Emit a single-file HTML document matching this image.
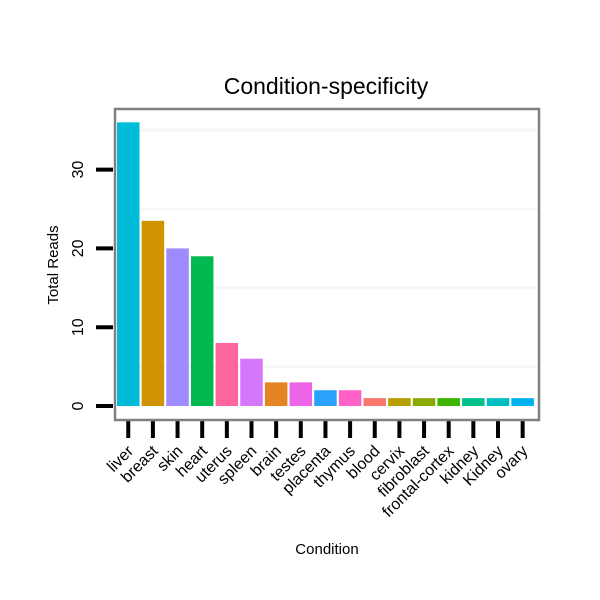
<!DOCTYPE html>
<html><head><meta charset="utf-8"><style>body{margin:0;background:#fff}svg{display:block;font-family:"Liberation Sans",sans-serif}</style></head>
<body>
<svg id="chart" width="600" height="600">
<rect x="0" y="0" width="600" height="600" fill="#fff"/>
<text x="326" y="94" text-anchor="middle" font-size="23">Condition-specificity</text>
<text transform="translate(58,265) rotate(-90)" text-anchor="middle" font-size="15">Total Reads</text>
<text x="327" y="554" text-anchor="middle" font-size="15">Condition</text>
<g id="grid"></g><g id="bars"></g><g id="axes"></g>
<rect x="115" y="109" width="424" height="311" fill="none" stroke="#808080" stroke-width="2.5"/>
</svg>
<script>
const categories = ["liver","breast","skin","heart","uterus","spleen","brain","testes","placenta","thymus","blood","cervix","fibroblast","frontal-cortex","kidney","Kidney","ovary"];
const values = [36,23.5,20,19,8,6,3,3,2,2,1,1,1,1,1,1,1];
const colors = ["#00BCD8","#CF9400","#9E8CFF","#00BA4F","#FF66A0","#D477FA","#E58422","#EE64E7","#2BA2FA","#FF61C8","#F8766D","#B79F00","#8BAA00","#3EB300","#00C08B","#00BFC4","#00B1F0"];
const yTicks = [0,10,20,30];
const yMinor = [5,15,25,35];
const NS="http://www.w3.org/2000/svg";
const y0=406, pxPer=7.88, x0=117, band=24.65, bw=22.5;
const yScale=v=>y0-v*pxPer;
const xCenter=i=>x0+band*i+bw/2;
function mk(tag,attrs,parent){const e=document.createElementNS(NS,tag);for(const k in attrs)e.setAttribute(k,attrs[k]);parent.appendChild(e);return e;}
const grid=document.getElementById('grid'),bars=document.getElementById('bars'),axes=document.getElementById('axes');
yMinor.forEach(v=>{const l=mk('line',{x1:116,x2:538,y1:yScale(v),y2:yScale(v),stroke:'#f7f7f7','stroke-width':3},grid);

});
values.forEach((v,i)=>{const r=mk('rect',{x:x0+band*i,y:yScale(v),width:bw,height:v*pxPer,fill:colors[i]},bars);

});
yTicks.forEach(v=>{const y=yScale(v);
const t=mk('line',{x1:96,x2:113,y1:y,y2:y,stroke:'#000','stroke-width':4},axes);


const tx=mk('text',{transform:`translate(83,${y}) rotate(-90)`,'text-anchor':'middle','font-size':16},axes);
tx.textContent=v;

});
categories.forEach((c,i)=>{const x=xCenter(i);
const t=mk('line',{x1:x,x2:x,y1:421,y2:438,stroke:'#000','stroke-width':4},axes);


const tx=mk('text',{transform:`translate(${x+6},452) rotate(-45)`,'text-anchor':'end','font-size':16},axes);
tx.textContent=c;

});
</script>
</body></html>
